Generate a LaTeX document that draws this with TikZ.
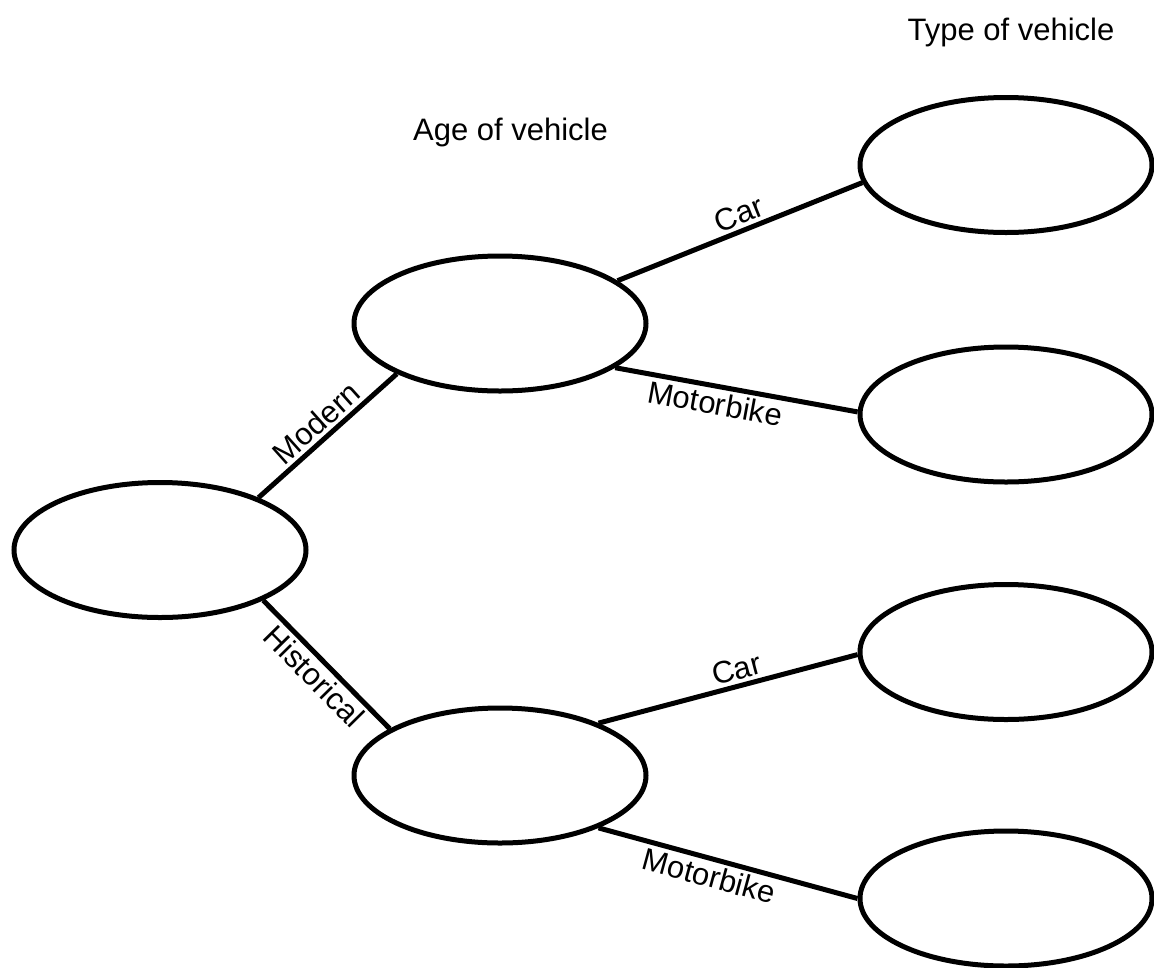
\documentclass[tikz,border=0pt]{standalone}
\usepackage{fontspec}
\setmainfont{Liberation Sans}
\usetikzlibrary{shapes.geometric}

\begin{document}
\begin{tikzpicture}[x=1pt, y=-1pt, line width=5pt,
    every node/.style={font=\fontsize{31}{36}\selectfont},
    stage/.style={ellipse, draw, minimum width=292pt, minimum height=135pt, inner sep=0pt}]
                \useasboundingbox (0,0) rectangle (1154,967);
                % headings
                \node[anchor=base] (agehead) at (510.5,140) {Age of vehicle};
                \node[anchor=base] (typehead) at (1011,40) {Type of vehicle};
                % ellipses
                \node[stage] (root) at (160,550) {};
                \node[stage] (modern) at (500,323.5) {};
                \node[stage] (hist) at (500,775.5) {};
                \node[stage] (mcar) at (1006,165) {};
                \node[stage] (mbike) at (1006,414.5) {};
                \node[stage] (hcar) at (1006,652) {};
                \node[stage] (hbike) at (1006,898.5) {};
                % branches
                \draw (root.28) -- node[sloped, above] {Modern} (modern.206);
                \draw (root.334) -- node[sloped, below] {Historical} (hist.157);
                \draw (modern.20) -- node[sloped, above, pos=.52] {Car} (mcar.187);
                \draw (modern.339) -- node[sloped, below, pos=.425] {Motorbike} (mbike.179);
                \draw (hist.28) -- node[sloped, above, pos=.55] {Car} (hcar.181);
                \draw (hist.332) -- node[sloped, below, pos=.445] {Motorbike} (hbike.180);
            \end{tikzpicture}
\end{document}
